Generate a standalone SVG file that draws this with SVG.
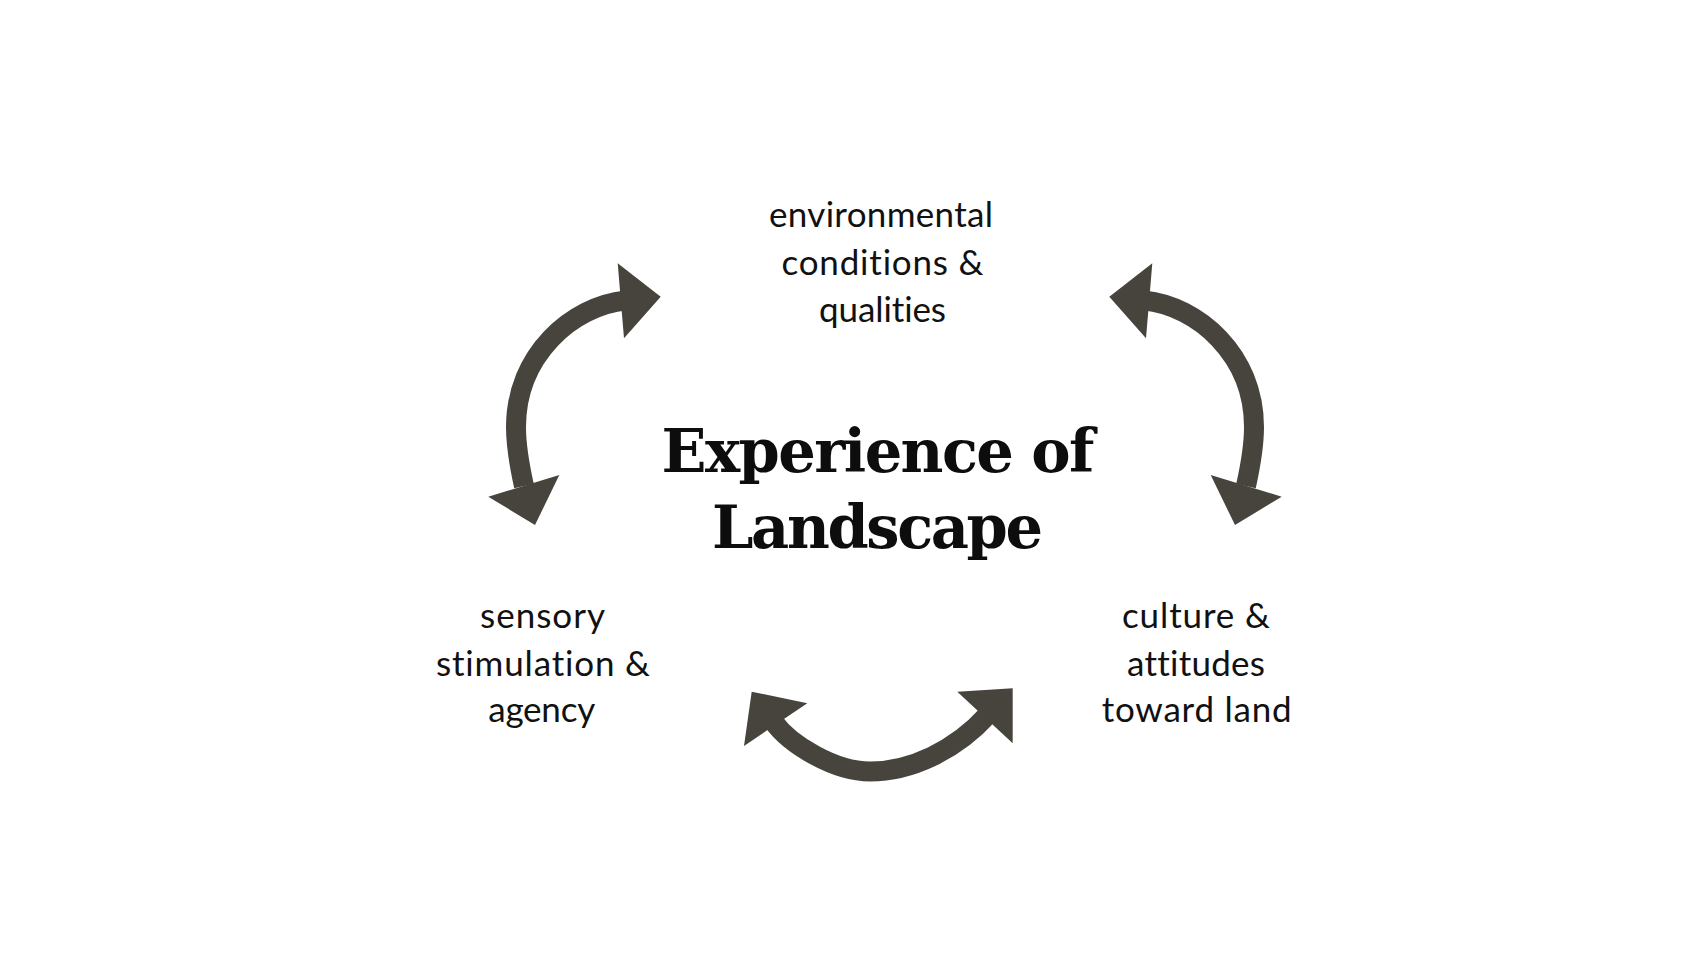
<svg xmlns="http://www.w3.org/2000/svg" width="1707" height="960" viewBox="0 0 1707 960">
<style>
.shaft{fill:none;stroke:#46443c;stroke-width:20;stroke-linecap:butt}
.head{fill:#46443c}
.lbl{font-family:Lato,"Open Sans","Liberation Sans",sans-serif;font-size:35px;fill:#111;text-anchor:middle;font-variant-ligatures:none}
.title{font-family:"DejaVu Serif","Liberation Serif",serif;font-weight:bold;font-size:59px;fill:#0d0d0d;text-anchor:middle}
</style>
<rect width="1707" height="960" fill="#ffffff"/>
<g id="connectors">
  <g id="arrow-left">
    <path class="shaft" d="M626,300.4 C572,306 516,355 516,427 C516,447 520,468 524,486"/>
    <polygon class="head" points="660.7,296.7 617.7,263.3 624,338.3"/>
    <polygon class="head" points="535,525 488.3,496.7 559.3,475"/>
  </g>
  <g id="arrow-right">
    <path class="shaft" d="M1144,300.4 C1198,306 1254,355 1254,427 C1254,447 1250,468 1246,486"/>
    <polygon class="head" points="1109.3,296.7 1152.3,263.3 1146,338.3"/>
    <polygon class="head" points="1235,525 1281.7,496.7 1210.7,475"/>
  </g>
  <g id="arrow-bottom">
    <path class="shaft" d="M773,721 C790,745 835,771.5 870,771.5 C910,771.5 955,751 988,714.5"/>
    <polygon class="head" points="751.7,691.7 807.3,703.3 744,746"/>
    <polygon class="head" points="1012.7,688.3 957.3,691.7 1012.7,743.3"/>
  </g>
</g>
<g id="node-environment">
  <text class="lbl" x="881" y="227" textLength="224">environmental</text>
  <text class="lbl" x="882.5" y="275" textLength="202">conditions &amp;</text>
  <text class="lbl" x="882.5" y="322" textLength="127">qualities</text>
</g>
<g id="node-experience">
  <text class="title" x="878" y="471.7" textLength="433">Experience of</text>
  <text class="title" x="877.5" y="548" textLength="331">Landscape</text>
</g>
<g id="node-sensory">
  <text class="lbl" x="542.5" y="628.3" textLength="125">sensory</text>
  <text class="lbl" x="543" y="676" textLength="214">stimulation &amp;</text>
  <text class="lbl" x="541.7" y="721.7" textLength="107">agency</text>
</g>
<g id="node-culture">
  <text class="lbl" x="1196" y="628.3" textLength="148">culture &amp;</text>
  <text class="lbl" x="1196" y="676" textLength="138">attitudes</text>
  <text class="lbl" x="1196.7" y="721.7" textLength="190">toward land</text>
</g>
</svg>
